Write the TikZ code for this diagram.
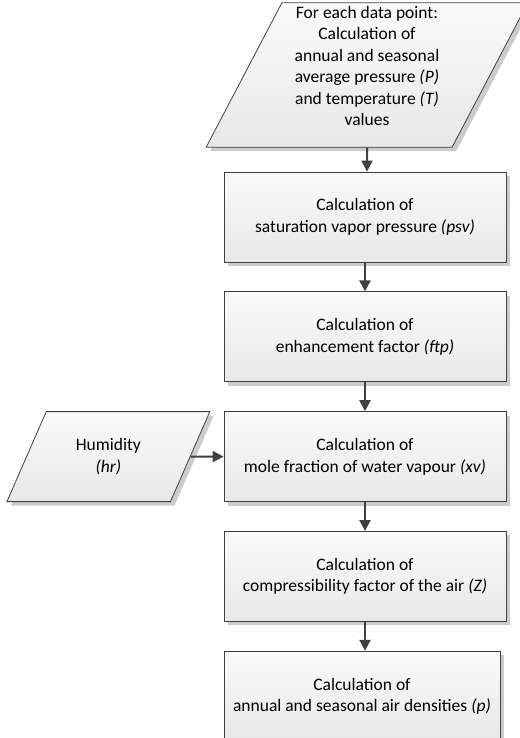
\documentclass[tikz,border=0pt]{standalone}
\usepackage{fontspec}
\setmainfont{Carlito}
\usepackage{tikz}
\usetikzlibrary{arrows.meta,positioning,shapes.geometric,shadows}

\begin{document}
\begin{tikzpicture}[x=1pt, y=1pt, node distance=29pt,
  font=\fontsize{17.5}{21.5}\selectfont,
  calcbox/.style={draw=black!75, line width=0.8pt, top color=black!2, bottom color=black!9,
    align=center, minimum width=282, minimum height=90,
    drop shadow={shadow xshift=4pt, shadow yshift=-4pt, fill=black!20, opacity=1}},
  databox/.style={calcbox, trapezium, trapezium stretches, align=center},
  flow/.style={-{Triangle[length=11pt,width=11pt]}, line width=2pt, draw=black!75}]
\useasboundingbox (0,0) rectangle (519,-738);
\node[databox, trapezium left angle=65, trapezium right angle=115,
  minimum width=322, minimum height=134, text depth=18pt] (input) at (367,-75)
  {For each data point:\\ Calculation of\\ annual and seasonal\\ average pressure \textit{(P)}\\ and temperature \textit{(T)}\\ values};
\node[calcbox] (psv) at (365,-217) {Calculation of\\ saturation vapor pressure \textit{(psv)}};
\node[calcbox, below=of psv] (ftp) {Calculation of\\ enhancement factor \textit{(ftp)}};
\node[calcbox, below=of ftp] (mfr) {Calculation of\\ mole fraction of water vapour \textit{(xv)}};
\node[calcbox, below=of mfr] (zfac) {Calculation of\\ compressibility factor of the air \textit{(Z)}};
\node[calcbox, minimum width=276, below=29pt of zfac.south west, anchor=north west] (dens)
  {Calculation of\\ annual and seasonal air densities \textit{(p)}};
\node[databox, trapezium left angle=62, trapezium right angle=118,
  minimum width=203, minimum height=90, left=33pt of mfr] (hum) {Humidity\\ \textit{(hr)}};
% flow
\draw[flow] (input) -- (input |- psv.north);
\draw[flow] (psv) -- (ftp);
\draw[flow] (ftp) -- (mfr);
\draw[flow] (mfr) -- (zfac);
\draw[flow] (zfac.south) -- (zfac.south |- dens.north);
\draw[flow] (hum) -- (mfr);
\end{tikzpicture}
\end{document}
